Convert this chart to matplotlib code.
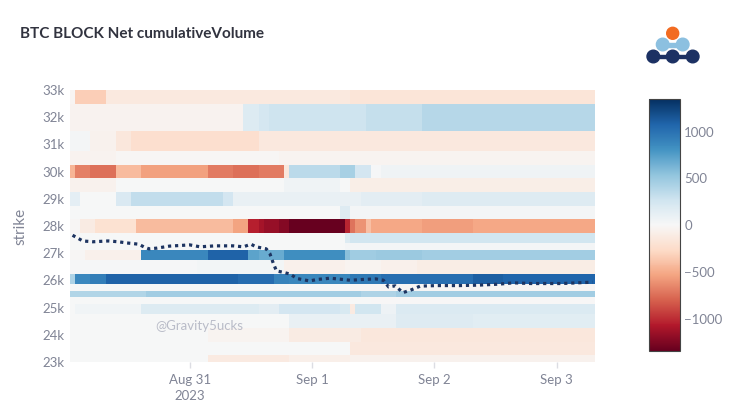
import matplotlib
matplotlib.use('Agg')
import matplotlib.pyplot as plt
import matplotlib.dates as mdates
from matplotlib.patches import Circle, Rectangle
import numpy as np
import pandas as pd

plt.rcParams['font.family'] = ['Lato', 'DejaVu Sans']

# Strikes on the y axis (one heatmap row each)
strikes = [23000, 23500, 24000, 24500, 25000, 25250, 25500, 25750, 26000, 26500,
           27000, 27250, 27500, 28000, 28500, 29000, 29500, 30000, 30500, 31000,
           32000, 33000]

# Net cumulative volume per strike, as (hour since Aug 30 00:00, value) change points
row_23000 = [(1, 0), (28, -120), (44, -80), (56, -60)]
row_23500 = [(1, 0), (56, -140)]
row_24000 = [(1, 0), (28, -40), (44, -110), (58, -150)]
row_24500 = [(1, 5), (44, 100), (65, 170), (80, 155)]
row_25000 = [(1, 10), (2, 45), (15, 180), (38, 140), (42, 250), (54, 220), (56, -120),
             (57, 260), (62, 70), (65, 195)]
row_25250 = [(1, 10), (60, -10)]
row_25500 = [(1, 400), (16, 470), (58, 410), (65, 465)]
row_25750 = [(1, 10), (56, -20)]
row_26000 = [(1, 420), (2, 870), (5, 930), (8, 1090), (34, 1040), (41, 900), (44, 880),
             (56, 960), (62, 1020), (80, 1110), (86, 1080)]
row_26500 = [(1, 15), (26, 40), (43, -70), (55, -40), (62, -70), (69, -100)]
row_27000 = [(1, -20), (4, -70), (15, 880), (28, 1090), (36, 720), (38, 680), (43, 840),
             (55, 560), (56, 480), (61, 500), (70, 470)]
row_27250 = [(1, 5), (55, 30)]
row_27500 = [(1, 0), (55, 180), (56, 260)]
row_28000 = [(1, -20), (3, -110), (6, -200), (14, -430), (33, -540), (36, -1050),
             (38, -1120), (39, -1170), (42, -1230), (44, -1345), (55, -1020), (56, -730),
             (57, -600), (59, -400), (60, -520), (70, -560), (80, -520)]
row_28500 = [(1, 5), (54, 170), (56, 30)]
row_29000 = [(1, 130), (3, 5), (10, 200), (13, 330), (31, 250), (33, 100), (58, 140),
             (70, 170)]
row_29500 = [(1, -60), (10, 10), (43, 60), (54, 0), (56, -90)]
row_30000 = [(1, -460), (2, -680), (5, -740), (10, -430), (15, -550), (28, -700),
             (33, -740), (38, -700), (43, -150), (44, 360), (54, 450), (57, 250),
             (60, 20), (62, 60)]
row_30500 = [(1, -50), (10, -20), (42, -40)]
row_31000 = [(1, 30), (5, -60), (10, -150), (13, -230), (38, -140)]
row_32000 = [(1, -50), (35, 180), (38, 240), (40, 280), (59, 320), (70, 380)]
row_33000 = [(1, -30), (2, -330), (8, -130), (56, -170)]

rows = [row_23000, row_23500, row_24000, row_24500, row_25000, row_25250, row_25500,
        row_25750, row_26000, row_26500, row_27000, row_27250, row_27500, row_28000,
        row_28500, row_29000, row_29500, row_30000, row_30500, row_31000, row_32000,
        row_33000]

# BTC price (dotted line), hour since Aug 30 00:00
price_hours = [1, 3, 5, 8, 10, 11.5, 14, 15, 16, 17.5, 20, 24, 26, 29, 32.5, 34.5, 36,
               37, 39, 39.7, 40.4, 41, 42.5, 43.7, 45, 47.5, 49, 51.5, 53.5, 55.5, 58,
               60.5, 62, 63, 64.3, 65.8, 67.3, 69.2, 72.5, 77, 80.5, 84.5, 87.5, 91, 97,
               103]
price_values = [27660, 27450, 27420, 27450, 27420, 27380, 27330, 27230, 27160, 27185,
                27260, 27305, 27235, 27270, 27270, 27235, 27330, 27235, 27160, 26990,
                26620, 26350, 26290, 26230, 26070, 25980, 26035, 26080, 26045, 26005,
                26035, 26055, 26005, 25760, 25800, 25550, 25640, 25790, 25810, 25810,
                25825, 25860, 25910, 25885, 25885, 25935]

# Build the hourly grid from the change points
hours = np.arange(1, 104)
grid = np.zeros((len(strikes), len(hours)))
for i, row in enumerate(rows):
    for start, value in row:
        grid[i, hours >= start] = value

t0 = pd.Timestamp('2023-08-30')
x_edges = mdates.date2num(t0 + pd.to_timedelta(np.append(hours - 0.5, hours[-1] + 0.5), unit='h'))
s = np.array(strikes, dtype=float)
y_edges = np.concatenate([[s[0] - (s[1] - s[0]) / 2], (s[:-1] + s[1:]) / 2,
                          [s[-1] + (s[-1] - s[-2]) / 2]])

tick_color = '#808495'

fig = plt.figure(figsize=(7.3, 4.13), dpi=100)
ax = fig.add_axes([0.0959, 0.1235, 0.7192, 0.6586])

pcm = ax.pcolormesh(x_edges, y_edges, grid, cmap='RdBu', vmin=-1345, vmax=1345,
                    shading='flat')

price_x = mdates.date2num(t0 + pd.to_timedelta(price_hours, unit='h'))
ax.plot(price_x, price_values, color='#1d3461', lw=2.3, linestyle=(0, (1, 1.2)))

ax.set_xlim(x_edges[0], x_edges[-1])
ax.set_ylim(23000, 33000)

yt = list(range(23000, 33001, 1000))
ax.set_yticks(yt)
ax.set_yticklabels([f'{v // 1000}k' for v in yt])
xt = mdates.date2num([pd.Timestamp('2023-08-31'), pd.Timestamp('2023-09-01'),
                      pd.Timestamp('2023-09-02'), pd.Timestamp('2023-09-03')])
ax.set_xticks(xt)
ax.set_xticklabels(['Aug 31\n2023', 'Sep 1', 'Sep 2', 'Sep 3'], linespacing=1.35)
ax.tick_params(axis='y', length=0, pad=4, labelsize=9.5, labelcolor=tick_color)
ax.tick_params(axis='x', length=4, width=1, color='#dcdde3', pad=5, labelsize=9.5,
               labelcolor=tick_color)
for sp in ax.spines.values():
    sp.set_visible(False)

ax.set_ylabel('strike', fontsize=11, color=tick_color)
ax.yaxis.set_label_coords(-0.082, 0.5)

# Colorbar
cax = fig.add_axes([0.8895, 0.150, 0.042, 0.6096])
cb = fig.colorbar(pcm, cax=cax, ticks=[-1000, -500, 0, 500, 1000])
cb.outline.set_edgecolor('#444444')
cb.outline.set_linewidth(0.8)
cax.tick_params(length=0, pad=3, labelsize=9.5, labelcolor=tick_color)

# Title and watermark
fig.text(20 / 730, 1 - 34 / 413, 'BTC BLOCK Net cumulativeVolume', fontsize=11,
         fontweight='bold', color='#31333f', va='center', ha='left')
fig.text(199 / 730, 1 - 325.7 / 413, '@Gravity5ucks', fontsize=9.5, color='#b9bcc8',
         ha='center', va='center')

# Logo in the top right corner (pixel coordinates)
lax = fig.add_axes([0, 0, 1, 1], zorder=5)
lax.set_xlim(0, 730)
lax.set_ylim(413, 0)
lax.axis('off')
lax.add_patch(Circle((672.7, 33.3), 6, color='#f26b21'))
lax.add_patch(Rectangle((662.7, 42.5), 20, 4, color='#8cc0e0'))
lax.add_patch(Circle((662.7, 44.5), 6.3, color='#8cc0e0'))
lax.add_patch(Circle((682.7, 44.5), 6.3, color='#8cc0e0'))
lax.add_patch(Rectangle((653, 55), 40, 3, color='#1c3163'))
for cx in [653.3, 672.7, 692.7]:
    lax.add_patch(Circle((cx, 56.5), 6.3, color='#1c3163'))

plt.savefig('out.png', dpi=100)
